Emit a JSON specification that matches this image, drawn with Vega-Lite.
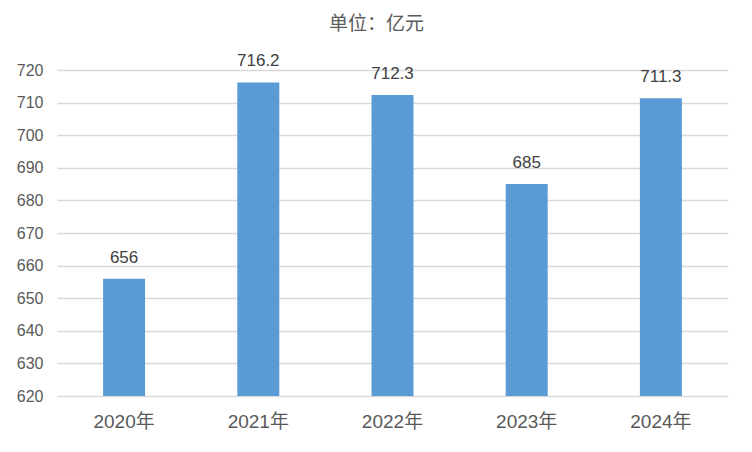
{
  "$schema": "https://vega.github.io/schema/vega-lite/v6.json",
  "autosize": "none",
  "width": 671,
  "height": 326,
  "padding": {"left": 57, "top": 70, "right": 24, "bottom": 56},
  "background": "white",
  "title": {
    "text": "单位：亿元",
    "frame": "group",
    "anchor": "middle",
    "dx": -16,
    "offset": 18,
    "font": "Noto Sans CJK SC",
    "fontSize": 19,
    "fontWeight": "normal",
    "color": "#595959"
  },
  "data": {
    "values": [
      {"year": "2020年", "value": 656},
      {"year": "2021年", "value": 716.2},
      {"year": "2022年", "value": 712.3},
      {"year": "2023年", "value": 685},
      {"year": "2024年", "value": 711.3}
    ]
  },
  "config": {
    "view": {"stroke": null},
    "axis": {
      "labelFont": "Liberation Sans, Noto Sans CJK SC",
      "labelFontSize": 16,
      "labelColor": "#595959",
      "ticks": false,
      "domain": false,
      "title": null
    }
  },
  "encoding": {
    "x": {
      "field": "year",
      "type": "nominal",
      "sort": null,
      "scale": {"paddingInner": 0.687, "paddingOuter": 0.3435},
      "axis": {"labelAngle": 0, "labelPadding": 16, "labelFontSize": 19, "grid": false}
    },
    "y": {
      "field": "value",
      "type": "quantitative",
      "scale": {"domain": [620, 720], "zero": false, "nice": false},
      "axis": {
        "values": [620, 630, 640, 650, 660, 670, 680, 690, 700, 710, 720],
        "grid": true,
        "gridColor": "#D9D9D9",
        "gridWidth": 1.3,
        "labelPadding": 14
      }
    }
  },
  "layer": [
    {"mark": {"type": "bar", "color": "#5B9BD5", "clip": true}},
    {
      "mark": {
        "type": "text",
        "baseline": "alphabetic",
        "dy": -16,
        "font": "Liberation Sans",
        "fontSize": 17,
        "color": "#404040"
      },
      "encoding": {"text": {"field": "value", "type": "quantitative"}}
    }
  ]
}
